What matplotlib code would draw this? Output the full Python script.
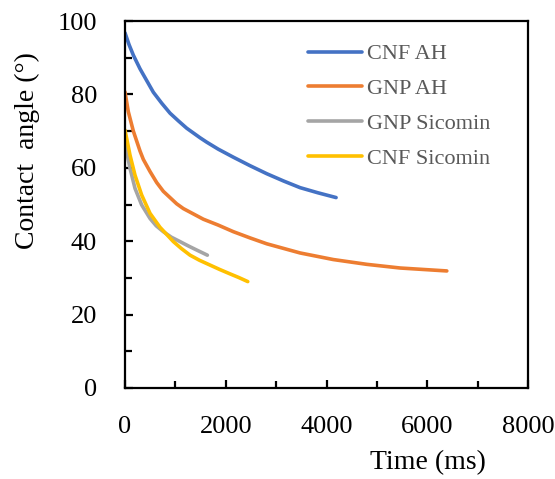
import matplotlib
matplotlib.use("Agg")
import matplotlib.pyplot as plt
from matplotlib.ticker import MultipleLocator

plt.rcParams['font.family'] = ['Liberation Serif', 'DejaVu Serif']

# Kurven (Zeit in ms, Kontaktwinkel in Grad)
cnf_ah_t = [0, 80, 166, 298, 364, 563, 730, 894, 1060, 1225, 1490, 1622, 1850,
            2151, 2480, 2814, 3150, 3476, 3830, 4190]
cnf_ah_y = [96.8, 93.6, 90.7, 87.0, 85.4, 80.6, 77.6, 74.9, 72.8, 70.8, 68.2, 67.0, 65.1,
            62.9, 60.6, 58.4, 56.4, 54.6, 53.2, 51.9]

gnp_ah_t = [0, 66, 166, 298, 364, 497, 629, 761, 1026, 1158, 1555, 1850, 2151,
            2483, 2814, 3476, 4137, 4800, 5462, 6388]
gnp_ah_y = [80.7, 75.3, 70.0, 64.6, 62.3, 59.0, 56.0, 53.6, 50.2, 48.9, 46.0, 44.4, 42.6,
            40.9, 39.3, 36.8, 35.0, 33.7, 32.7, 31.9]

gnp_sic_t = [0, 33, 99, 199, 331, 497, 620, 761, 920, 1092, 1260, 1423, 1635]
gnp_sic_y = [68.0, 64.4, 59.9, 54.4, 49.9, 46.2, 44.2, 42.6, 41.1, 39.9, 38.7, 37.6, 36.2]

cnf_sic_t = [0, 99, 199, 331, 497, 695, 960, 1120, 1291, 1480, 1688, 1880, 2085, 2260, 2437]
cnf_sic_y = [70.3, 63.5, 58.0, 52.6, 47.6, 43.8, 39.9, 38.0, 36.2, 34.8, 33.5, 32.3, 31.1, 30.1, 29.0]

labels = ["CNF AH", "GNP AH", "GNP Sicomin", "CNF Sicomin"]
colors = ["#4472C4", "#ED7D31", "#A5A5A5", "#FFC000"]

fig = plt.figure(figsize=(5.55, 4.79), dpi=100)
ax = fig.add_axes([0.2252, 0.19, 0.7262, 0.766])

series = [(cnf_ah_t, cnf_ah_y), (gnp_ah_t, gnp_ah_y),
          (gnp_sic_t, gnp_sic_y), (cnf_sic_t, cnf_sic_y)]
for (t, y), lab, col in zip(series, labels, colors):
    ax.plot(t, y, color=col, linewidth=2.6, label=lab,
            solid_capstyle="round", solid_joinstyle="round")

ax.set_xlim(0, 8000)
ax.set_ylim(0, 100)
ax.xaxis.set_major_locator(MultipleLocator(2000))
ax.xaxis.set_minor_locator(MultipleLocator(1000))
ax.yaxis.set_major_locator(MultipleLocator(20))
ax.yaxis.set_minor_locator(MultipleLocator(10))

for s in ax.spines.values():
    s.set_linewidth(1.6)
ax.tick_params(which="both", direction="in", width=1.6, labelsize=19)
ax.tick_params(which="major", length=6)
ax.tick_params(which="minor", length=5)
ax.tick_params(axis="x", which="both", pad=20)
ax.tick_params(axis="y", which="both", pad=20)

ax.set_xlabel("Time (ms)", fontsize=20)
ax.set_ylabel("Contact  angle (°)", fontsize=20)
ax.xaxis.set_label_coords(0.752, -0.168)
ax.yaxis.set_label_coords(-0.211, 0.648)

leg = ax.legend(loc="upper left", bbox_to_anchor=(0.454, 0.938), frameon=False,
                fontsize=16, handlelength=2.43, handletextpad=0.22,
                labelspacing=0.645, borderaxespad=0, borderpad=0)
for txt in leg.get_texts():
    txt.set_color("#595959")

fig.savefig("out.png", dpi=100)
